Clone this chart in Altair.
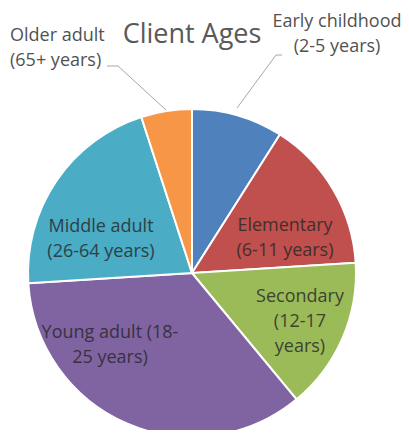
import altair as alt
import pandas as pd

categories = [
    "Early childhood (2-5 years)",
    "Elementary (6-11 years)",
    "Secondary (12-17 years)",
    "Young adult (18-25 years)",
    "Middle adult (26-64 years)",
    "Older adult (65+ years)",
]
values = [9, 15, 15, 35, 21, 5]
colors = ["#4F81BD", "#C0504D", "#9BBB59", "#8064A2", "#4BACC6", "#F79646"]

label_lines = [
    ["Early childhood", "(2-5 years)"],
    ["Elementary", "(6-11 years)"],
    ["Secondary", "(12-17", "years)"],
    ["Young adult (18-", "25 years)"],
    ["Middle adult", "(26-64 years)"],
    ["Older adult", "(65+ years)"],
]
title_text = "Client Ages"

# layout (chart coordinates = page - 8); y is the first line's centre
CX, CY, R = 184, 265, 164
label_layout = [
    (329, 14, "center"),
    (277, 218, "center"),
    (292, 289, "center"),
    (102, 325, "center"),
    (93, 219, "center"),
    (2, 28, "left"),
]
FONT = "Open Sans"
TEXT_COLOR = "#262626"

df = pd.DataFrame({"category": categories, "value": values, "order": range(len(values))})

pie = alt.Chart(df).mark_arc(outerRadius=R, stroke="white", strokeWidth=2).encode(
    theta=alt.Theta("value:Q", stack=True),
    order=alt.Order("order:Q"),
    color=alt.Color("category:N", scale=alt.Scale(domain=categories, range=colors), legend=None),
    x=alt.value(CX),
    y=alt.value(CY),
)

layers = [pie]

# leader lines
leaders = [
    [(99, 58), (110, 58), (158, 102)],
    [(274, 47), (268, 47), (229, 100)],
]
for pts in leaders:
    for (x1, y1), (x2, y2) in zip(pts[:-1], pts[1:]):
        layers.append(
            alt.Chart(df).mark_rule(color="#A6A6A6", strokeWidth=1).encode(
                x=alt.value(x1), y=alt.value(y1), x2=alt.value(x2), y2=alt.value(y2)
            ).transform_filter("datum.order == 0")
        )

for lines, (lx, ly, al) in zip(label_lines, label_layout):
    layers.append(
        alt.Chart(df).mark_text(
            font=FONT, fontSize=18, color=TEXT_COLOR, opacity=0.8, align=al,
            baseline="middle", lineHeight=25
        ).encode(x=alt.value(lx), y=alt.value(ly), text=alt.value(lines)).transform_filter("datum.order == 0")
    )

layers.append(
    alt.Chart(df).mark_text(
        font=FONT, fontSize=27, color="#595959", align="center", baseline="middle"
    ).encode(x=alt.value(184), y=alt.value(27), text=alt.value(title_text)).transform_filter("datum.order == 0")
)

chart = alt.layer(*layers).properties(
    width=393, height=422, autosize="none", padding=0
).configure_view(stroke=None)

chart.save("out.html", embed_options={"renderer": "svg", "actions": False})
